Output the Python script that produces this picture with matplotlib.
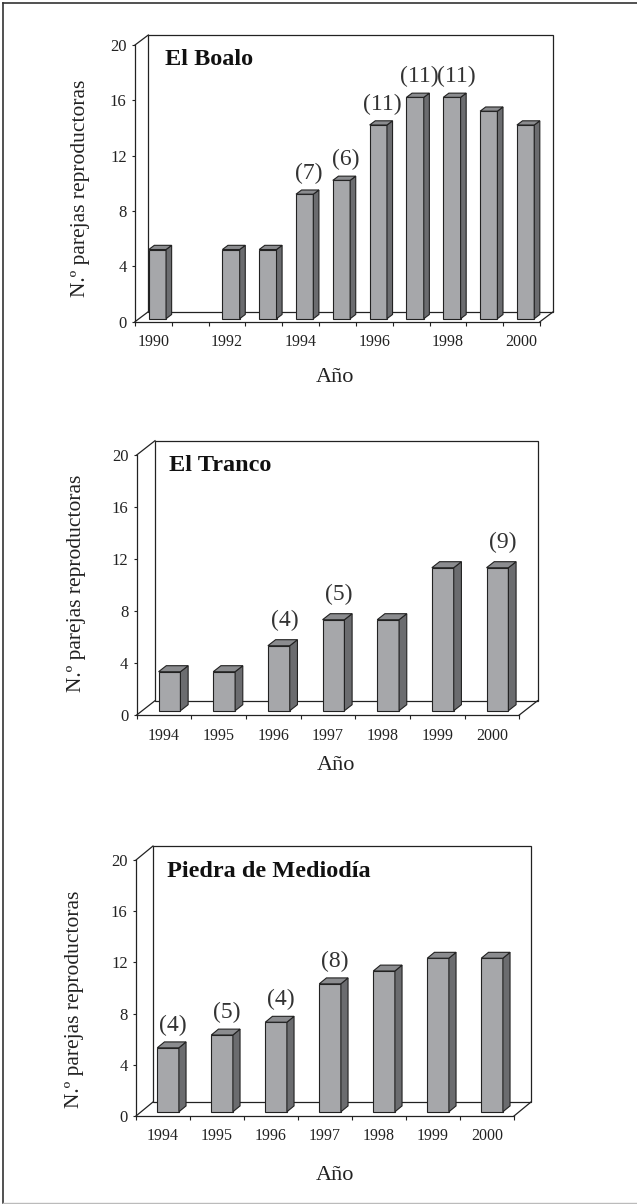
import numpy as np
import matplotlib.pyplot as plt
from matplotlib.patches import Polygon
from matplotlib.lines import Line2D

plt.rcParams['font.family'] = ['Liberation Serif', 'DejaVu Serif']

# Datos: numero de parejas reproductoras por localidad
boalo_years = ["1990", "1991", "1992", "1993", "1994", "1995", "1996", "1997", "1998", "1999", "2000"]
boalo_values = [5, None, 5, 5, 9, 10, 14, 16, 16, 15, 14]
boalo_notes = ["", "", "", "", "(7)", "(6)", "(11)", "(11)", "(11)", "", ""]
boalo_ticklabels = ["1990", "", "1992", "", "1994", "", "1996", "", "1998", "", "2000"]

tranco_years = ["1994", "1995", "1996", "1997", "1998", "1999", "2000"]
tranco_values = [3, 3, 5, 7, 7, 11, 11]
tranco_notes = ["", "", "(4)", "(5)", "", "", "(9)"]

piedra_years = ["1994", "1995", "1996", "1997", "1998", "1999", "2000"]
piedra_values = [5, 6, 7, 10, 11, 12, 12]
piedra_notes = ["(4)", "(5)", "(4)", "(8)", "", "", ""]

yticks = [0, 4, 8, 12, 16, 20]

W, H = 637, 1204
fig = plt.figure(figsize=(W / 100, H / 100), dpi=100)

# marco exterior
fig.add_artist(Line2D([2.5 / W, 2.5 / W], [1 - 2.5 / H, 1 - 1203 / H], color='#333333', lw=1.2))
fig.add_artist(Line2D([2.5 / W, 1], [1 - 2.5 / H, 1 - 2.5 / H], color='#333333', lw=1.2))
fig.add_artist(Line2D([2.5 / W, 1], [1 - 1202.5 / H, 1 - 1202.5 / H], color='#bbbbbb', lw=1))

FRONT = '#a6a7aa'
SIDE = '#6b6c6f'
TOP = '#8b8c8f'
EDGE = '#222222'


def panel(years, values, notes, ticklabels, title, x0, x1, y0, y20, dx, dy, bw,
          ylab_xy, ano_xy, title_xy, note_pad):
    n = len(years)
    ax = fig.add_axes([x0 / W, 1 - y0 / H, (x1 - x0) / W, (y0 - y20) / H])
    ax.set_xlim(-0.5, n - 0.5)
    ax.set_ylim(0, 20)
    ax.patch.set_visible(False)
    ax.spines['top'].set_visible(False)
    ax.spines['right'].set_visible(False)
    for s in ['left', 'bottom']:
        ax.spines[s].set_linewidth(0.9)
        ax.spines[s].set_color(EDGE)

    # profundidad en unidades de datos
    DX = dx * n / (x1 - x0)
    DY = dy * 20 / (y0 - y20)
    pad = note_pad * 20 / (y0 - y20)

    kw = dict(color=EDGE, lw=0.9, clip_on=False)
    ax.add_patch(Polygon([(-0.5 + DX, DY), (-0.5 + DX, 20 + DY), (n - 0.5 + DX, 20 + DY),
                          (n - 0.5 + DX, DY)], closed=True, fill=False, ec=EDGE, lw=0.9, clip_on=False))
    ax.plot([-0.5, -0.5 + DX], [20, 20 + DY], **kw)
    ax.plot([-0.5, -0.5 + DX], [0, DY], **kw)
    ax.plot([n - 0.5, n - 0.5 + DX], [0, DY], **kw)

    f1, f2 = 0.3, 0.72
    xs = np.arange(n)
    idx = [i for i, v in enumerate(values) if v is not None]
    vals = [values[i] for i in idx]
    ax.bar(xs[idx] + f1 * DX, vals, width=bw, bottom=f1 * DY, color=FRONT,
           edgecolor=EDGE, linewidth=0.8, zorder=3, clip_on=False)
    for i, v in zip(idx, vals):
        xl = i - bw / 2
        xr = i + bw / 2
        side = [(xr + f1 * DX, f1 * DY), (xr + f2 * DX, f2 * DY),
                (xr + f2 * DX, v + f2 * DY), (xr + f1 * DX, v + f1 * DY)]
        top = [(xl + f1 * DX, v + f1 * DY), (xr + f1 * DX, v + f1 * DY),
               (xr + f2 * DX, v + f2 * DY), (xl + f2 * DX, v + f2 * DY)]
        ax.add_patch(Polygon(side, closed=True, fc=SIDE, ec=EDGE, lw=0.8, zorder=3, clip_on=False))
        ax.add_patch(Polygon(top, closed=True, fc=TOP, ec=EDGE, lw=0.8, zorder=3, clip_on=False))
        if notes[i]:
            ax.text(i + 0.6 * DX, v + f2 * DY + pad, notes[i], ha='center', va='bottom',
                    fontsize=17, color='#333333', zorder=4, clip_on=False)

    ax.set_yticks(yticks)
    ax.set_yticklabels([str(t) for t in yticks])
    ax.tick_params(axis='y', direction='out', length=2.5, width=0.8, pad=3.5,
                   labelsize=12, colors=EDGE)
    ax.set_xticks(xs)
    ax.set_xticklabels(ticklabels)
    ax.set_xticks(np.arange(n + 1) - 0.5, minor=True)
    ax.tick_params(axis='x', which='major', length=0, pad=9, labelsize=11.5, colors=EDGE)
    ax.tick_params(axis='x', which='minor', direction='out', length=3, width=0.8, colors=EDGE)

    fig.text(ylab_xy[0] / W, 1 - ylab_xy[1] / H, "N.º parejas reproductoras", rotation=90,
             ha='center', va='center', fontsize=15.5, color='#222222')
    fig.text(ano_xy[0] / W, 1 - ano_xy[1] / H, "Año", ha='center', va='center',
             fontsize=16, color='#222222')
    fig.text(title_xy[0] / W, 1 - title_xy[1] / H, title, ha='left', va='baseline',
             fontsize=17.5, fontweight='bold', color='#111111')


panel(boalo_years, boalo_values, boalo_notes, boalo_ticklabels, "El Boalo",
      135, 540, 321.7, 45, 13.3, 10, 0.47, (81, 188), (335, 378), (165, 65), 6)
panel(tranco_years, tranco_values, tranco_notes, tranco_years, "El Tranco",
      136.7, 519.3, 715, 455, 18.3, 14.3, 0.4, (76, 583), (336, 765), (169, 470.7), 9)
panel(piedra_years, piedra_values, piedra_notes, piedra_years, "Piedra de Mediodía",
      136, 514, 1116, 860, 17, 14, 0.4, (75, 999), (335, 1175), (166.7, 876.7), 6)

fig.savefig("out.png", dpi=100)
